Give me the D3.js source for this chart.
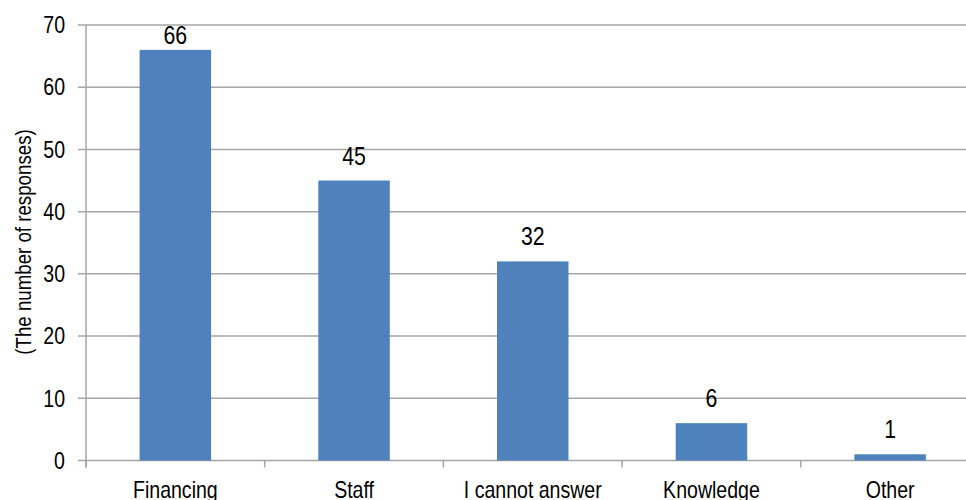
<!DOCTYPE html>
<html>
<head>
<meta charset="utf-8">
<script src="https://cdn.jsdelivr.net/npm/d3@7"></script>
<style>
  html, body { margin: 0; padding: 0; background: #fff; }
  svg { display: block; }
  text { font-family: "Liberation Sans Narrow", "Arial Narrow", "Liberation Sans", sans-serif; fill: #000; }
</style>
</head>
<body>
<div id="chart"></div>
<script>
// Data
const categories = ["Financing", "Staff", "I cannot answer", "Knowledge", "Other"];
const responses = [66, 45, 32, 6, 1];
const yTicks = [0, 10, 20, 30, 40, 50, 60, 70];
const yTitle = "(The number of responses)";

(function () {
  const width = 966, height = 500;
  const left = 86, top = 25, bottom = 460.5, right = 979.5;
  const sx = 0.85; // squeeze text horizontally to mimic a condensed face

  const svg = d3.select("#chart").append("svg")
    .attr("width", width)
    .attr("height", height);

  const x = d3.scaleBand()
    .domain(categories)
    .range([left, right])
    .paddingInner(0.6)
    .paddingOuter(0.3);

  const y = d3.scaleLinear().domain([0, 70]).range([bottom, top]);

  const place = (px, py) => `translate(${px},${py}) scale(${sx},1)`;

  // gridlines
  svg.append("g").selectAll("line")
    .data(yTicks)
    .join("line")
    .attr("x1", left - 8).attr("x2", width)
    .attr("y1", d => y(d)).attr("y2", d => y(d))
    .attr("stroke", "#a6a6a6")
    .attr("stroke-width", 1.5);

  // y tick labels
  svg.append("g").selectAll("text")
    .data(yTicks)
    .join("text")
    .attr("transform", d => place(65, y(d)))
    .attr("dy", "0.36em")
    .attr("text-anchor", "end")
    .style("font-size", "23px")
    .text(d => d);

  // y axis line
  svg.append("line")
    .attr("x1", left).attr("x2", left)
    .attr("y1", top).attr("y2", bottom + 7)
    .attr("stroke", "#a6a6a6").attr("stroke-width", 1.5);

  // category ticks at band edges
  const edges = d3.range(categories.length + 1).map(i => left + i * x.step());
  svg.append("g").selectAll("line")
    .data(edges)
    .join("line")
    .attr("x1", d => d).attr("x2", d => d)
    .attr("y1", bottom).attr("y2", bottom + 7)
    .attr("stroke", "#a6a6a6").attr("stroke-width", 1.5);

  // bars
  svg.append("g").selectAll("rect")
    .data(categories)
    .join("rect")
    .attr("x", d => x(d))
    .attr("width", x.bandwidth())
    .attr("y", (d, i) => y(responses[i]))
    .attr("height", (d, i) => bottom - y(responses[i]))
    .attr("fill", "#4f81bd");

  // value labels (pushed down when they would leave the plot area)
  svg.append("g").selectAll("text")
    .data(categories)
    .join("text")
    .attr("transform", (d, i) =>
      place(x(d) + x.bandwidth() / 2, Math.max(y(responses[i]) - 16, top + 19)))
    .attr("text-anchor", "middle")
    .style("font-size", "25px")
    .text((d, i) => responses[i]);

  // category labels
  svg.append("g").selectAll("text")
    .data(categories)
    .join("text")
    .attr("transform", d => place(x(d) + x.bandwidth() / 2, 498))
    .attr("text-anchor", "middle")
    .style("font-size", "23px")
    .text(d => d);

  // y title
  svg.append("text")
    .attr("transform", `translate(31, 242) rotate(-90) scale(${sx},1)`)
    .attr("text-anchor", "middle")
    .style("font-size", "22px")
    .text(yTitle);
})();
</script>
</body>
</html>
